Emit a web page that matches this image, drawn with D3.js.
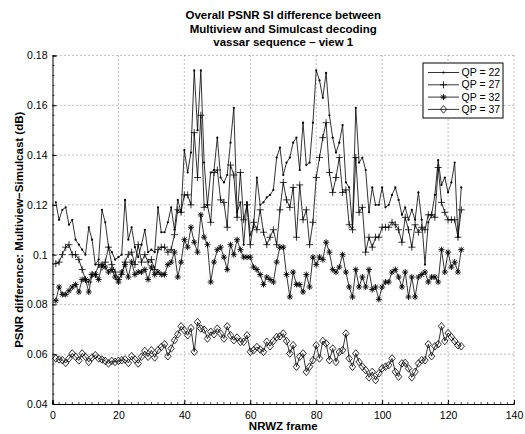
<!DOCTYPE html>
<html>
<head>
<meta charset="utf-8">
<script src="https://cdn.jsdelivr.net/npm/d3@7"></script>
<style>
  body { margin: 0; background: #fff; }
  svg { display: block; font-family: "Liberation Sans", Arial, Helvetica, sans-serif; }
</style>
</head>
<body>
<svg id="viz"></svg>
<script>
// ---- data ----
const frames = d3.range(1, 125);

const qp22 = [0.121,0.114,0.118,0.119,0.112,0.114,0.106,0.104,0.102,0.100,
  0.111,0.106,0.096,0.098,0.118,0.113,0.103,0.101,0.098,0.099,
  0.100,0.122,0.106,0.111,0.103,0.099,0.104,0.110,0.101,0.102,
  0.101,0.119,0.109,0.109,0.113,0.119,0.110,0.122,0.117,0.142,
  0.133,0.141,0.174,0.150,0.174,0.137,0.120,0.133,0.134,0.147,
  0.131,0.129,0.132,0.145,0.159,0.117,0.121,0.104,0.121,0.108,
  0.111,0.131,0.120,0.121,0.123,0.124,0.126,0.139,0.143,0.132,
  0.137,0.139,0.145,0.147,0.134,0.153,0.136,0.137,0.153,0.174,
  0.170,0.163,0.173,0.156,0.147,0.141,0.145,0.152,0.129,0.127,
  0.111,0.159,0.137,0.139,0.134,0.117,0.127,0.120,0.120,0.127,
  0.119,0.120,0.124,0.127,0.122,0.116,0.119,0.114,0.118,0.114,
  0.125,0.114,0.096,0.113,0.116,0.124,0.138,0.128,0.131,0.125,
  0.129,0.137,0.107,0.127];

const qp27 = [0.0964,0.097,0.100,0.103,0.104,0.100,0.100,0.098,0.094,0.090,
  0.089,0.092,0.092,0.096,0.095,0.097,0.103,0.096,0.093,0.090,
  0.092,0.097,0.100,0.101,0.096,0.104,0.097,0.100,0.097,0.098,
  0.094,0.102,0.103,0.103,0.101,0.102,0.108,0.118,0.117,0.124,
  0.124,0.120,0.149,0.131,0.156,0.119,0.120,0.113,0.133,0.134,
  0.122,0.121,0.111,0.136,0.132,0.115,0.133,0.114,0.120,0.104,
  0.113,0.110,0.118,0.109,0.104,0.107,0.110,0.104,0.118,0.129,
  0.122,0.119,0.127,0.107,0.128,0.114,0.118,0.104,0.113,0.131,
  0.139,0.147,0.153,0.133,0.125,0.131,0.139,0.125,0.126,0.112,
  0.110,0.139,0.117,0.119,0.101,0.107,0.103,0.107,0.107,0.111,
  0.111,0.111,0.113,0.112,0.110,0.105,0.115,0.110,0.103,0.112,
  0.109,0.111,0.110,0.116,0.116,0.115,0.135,0.121,0.117,0.114,
  0.114,0.114,0.107,0.118];

const qp32 = [0.0815,0.087,0.084,0.084,0.0855,0.087,0.088,0.085,0.090,0.090,
  0.085,0.092,0.092,0.090,0.096,0.095,0.093,0.094,0.091,0.089,
  0.093,0.096,0.091,0.097,0.092,0.093,0.093,0.094,0.090,0.095,
  0.092,0.093,0.092,0.092,0.096,0.097,0.101,0.091,0.097,0.106,
  0.103,0.111,0.105,0.101,0.116,0.107,0.104,0.089,0.097,0.102,
  0.103,0.099,0.094,0.104,0.100,0.106,0.102,0.099,0.099,0.099,
  0.095,0.094,0.092,0.088,0.091,0.090,0.089,0.097,0.103,0.103,
  0.092,0.083,0.093,0.088,0.088,0.085,0.092,0.087,0.099,0.096,
  0.099,0.098,0.105,0.101,0.094,0.093,0.095,0.100,0.093,0.087,
  0.083,0.094,0.087,0.091,0.087,0.094,0.086,0.087,0.082,0.087,
  0.089,0.089,0.093,0.094,0.091,0.087,0.093,0.083,0.091,0.083,
  0.091,0.092,0.093,0.089,0.091,0.091,0.089,0.102,0.093,0.101,
  0.095,0.097,0.093,0.102];

const qp37 = [0.0583,0.0579,0.0576,0.0565,0.0583,0.0603,0.059,0.0575,0.0603,0.059,
  0.0569,0.0587,0.0596,0.0583,0.0579,0.0573,0.0563,0.0573,0.0569,0.0573,
  0.0576,0.0579,0.0565,0.0592,0.0579,0.0563,0.059,0.0613,0.059,0.0616,
  0.0587,0.0616,0.0629,0.064,0.0592,0.0623,0.0656,0.068,0.0712,0.0696,
  0.0676,0.0705,0.061,0.0729,0.0703,0.0699,0.0663,0.069,0.068,0.0703,
  0.0683,0.0663,0.0712,0.0676,0.0656,0.0667,0.065,0.065,0.0676,0.061,
  0.0616,0.0629,0.0619,0.061,0.065,0.0632,0.0653,0.0669,0.0672,0.0683,
  0.0653,0.0603,0.0636,0.055,0.059,0.0603,0.0529,0.055,0.0576,0.0636,
  0.0583,0.0653,0.0643,0.0576,0.0623,0.0569,0.0609,0.0616,0.0683,0.0583,
  0.055,0.0603,0.0569,0.055,0.0536,0.0507,0.0529,0.0496,0.0523,0.0543,
  0.055,0.0556,0.0583,0.0529,0.051,0.0563,0.0565,0.0543,0.0507,0.0529,
  0.0563,0.0576,0.0576,0.064,0.0592,0.0632,0.064,0.0712,0.0653,0.0685,
  0.0669,0.0653,0.0636,0.0632];

const seriesNames = ['QP = 22', 'QP = 27', 'QP = 32', 'QP = 37'];
const xTicks = [0, 20, 40, 60, 80, 100, 120, 140];
const yTicks = [0.04, 0.06, 0.08, 0.1, 0.12, 0.14, 0.16, 0.18];
const titleLines = ['Overall PSNR SI difference between', 'Multiview and Simulcast decoding', 'vassar sequence \u2013 view 1'];

// ---- layout ----
var width = 525, height = 434;
var margin = {top: 55.5, right: 11, bottom: 30, left: 52.5};
var drawWidth = width - margin.left - margin.right;
var drawHeight = height - margin.top - margin.bottom;

var svg = d3.select('#viz').attr('width', width).attr('height', height);
var g = svg.append('g').attr('transform', `translate(${margin.left},${margin.top})`);

var xScale = d3.scaleLinear().domain([0, 140]).range([0, drawWidth]);
var yScale = d3.scaleLinear().domain([0.04, 0.18]).range([drawHeight, 0]);

// grid
g.append('g').selectAll('line').data(xTicks.slice(1)).join('line')
  .attr('x1', d => xScale(d)).attr('x2', d => xScale(d))
  .attr('y1', 0).attr('y2', drawHeight)
  .attr('stroke', '#666').attr('stroke-width', 0.8).attr('stroke-dasharray', '1,3');
g.append('g').selectAll('line').data(yTicks.slice(1)).join('line')
  .attr('x1', 0).attr('x2', drawWidth)
  .attr('y1', d => yScale(d)).attr('y2', d => yScale(d))
  .attr('stroke', '#666').attr('stroke-width', 0.8).attr('stroke-dasharray', '1,3');

// axes (ticks inward, minor ticks)
var xAxis = d3.axisBottom(xScale).tickValues(xTicks).tickSize(-4).tickPadding(8).tickFormat(d3.format('d'));
var yAxis = d3.axisLeft(yScale).tickValues(yTicks).tickSize(-4).tickPadding(5).tickFormat(d => String(+d.toFixed(2)));

var xAxisG = g.append('g').attr('transform', `translate(0,${drawHeight})`).call(xAxis);
var yAxisG = g.append('g').call(yAxis);
[xAxisG, yAxisG].forEach(a => {
  a.select('.domain').attr('stroke', '#000').attr('stroke-width', 1);
  a.selectAll('.tick line').attr('stroke', '#000');
  a.selectAll('text').attr('font-size', 10.5).attr('fill', '#000')
    .attr('font-family', '"Liberation Sans", Arial, sans-serif');
});

var xMinor = d3.range(0, 141, 2);
var yMinor = d3.range(0.04, 0.1801, 0.004);
g.append('g').selectAll('line').data(xMinor).join('line')
  .attr('x1', d => xScale(d)).attr('x2', d => xScale(d))
  .attr('y1', drawHeight).attr('y2', drawHeight - 2)
  .attr('stroke', '#000').attr('stroke-width', 0.7);
g.append('g').selectAll('line').data(yMinor).join('line')
  .attr('x1', 0).attr('x2', 2)
  .attr('y1', d => yScale(d)).attr('y2', d => yScale(d))
  .attr('stroke', '#000').attr('stroke-width', 0.7);

// markers
function drawMarker(sel, kind) {
  if (kind === 0) {
    sel.append('circle').attr('r', 1.1).attr('fill', '#000');
  } else if (kind === 1) {
    sel.append('path').attr('d', 'M-3.5,0H3.5M0,-3.5V3.5').attr('stroke', '#000').attr('stroke-width', 0.8).attr('fill', 'none');
  } else if (kind === 2) {
    sel.append('path').attr('d', 'M-3,0H3M0,-3V3M-2.2,-2.2L2.2,2.2M-2.2,2.2L2.2,-2.2')
      .attr('stroke', '#000').attr('stroke-width', 0.9).attr('fill', 'none');
  } else {
    sel.append('path').attr('d', 'M0,-3.8L3.2,0L0,3.8L-3.2,0Z')
      .attr('stroke', '#000').attr('stroke-width', 0.8).attr('fill', 'none');
  }
}

var allSeries = [qp22, qp27, qp32, qp37];
var line = d3.line().x((d, i) => xScale(frames[i])).y(d => yScale(d));

allSeries.forEach((vals, k) => {
  g.append('path').datum(vals).attr('d', line)
    .attr('fill', 'none').attr('stroke', '#000').attr('stroke-width', 0.8);
  g.append('g').selectAll('g').data(vals).join('g')
    .attr('transform', (d, i) => `translate(${xScale(frames[i])},${yScale(d)})`)
    .each(function() { drawMarker(d3.select(this), k); });
});

// legend
var lg = svg.append('g').attr('transform', 'translate(423,63)');
lg.append('rect').attr('width', 80).attr('height', 55)
  .attr('fill', '#fff').attr('stroke', '#000').attr('stroke-width', 1);
seriesNames.forEach((name, k) => {
  var yy = 9.5 + k * 12.3;
  lg.append('line').attr('x1', 5).attr('x2', 36).attr('y1', yy).attr('y2', yy)
    .attr('stroke', '#000').attr('stroke-width', 0.8);
  drawMarker(lg.append('g').attr('transform', `translate(20.5,${yy})`), k);
  lg.append('text').attr('x', 38.5).attr('y', yy).attr('dy', '0.35em')
    .attr('font-size', 10.5).text(name);
});

// titles
svg.append('g').selectAll('text').data(titleLines).join('text')
  .attr('x', margin.left + drawWidth / 2).attr('y', (d, i) => 19 + i * 13.6)
  .attr('text-anchor', 'middle').attr('font-weight', 'bold').attr('font-size', 11.5)
  .text(d => d);

svg.append('text').attr('x', margin.left + drawWidth / 2).attr('y', 430)
  .attr('text-anchor', 'middle').attr('font-weight', 'bold').attr('font-size', 11.5)
  .text('NRWZ frame');

svg.append('text')
  .attr('transform', `translate(19,${margin.top + drawHeight / 2}) rotate(-90)`)
  .attr('text-anchor', 'middle').attr('dy', '0.35em').attr('font-weight', 'bold').attr('font-size', 11.5)
  .text('PSNR difference: Multiview\u2212Simulcast (dB)');
</script>
</body>
</html>
